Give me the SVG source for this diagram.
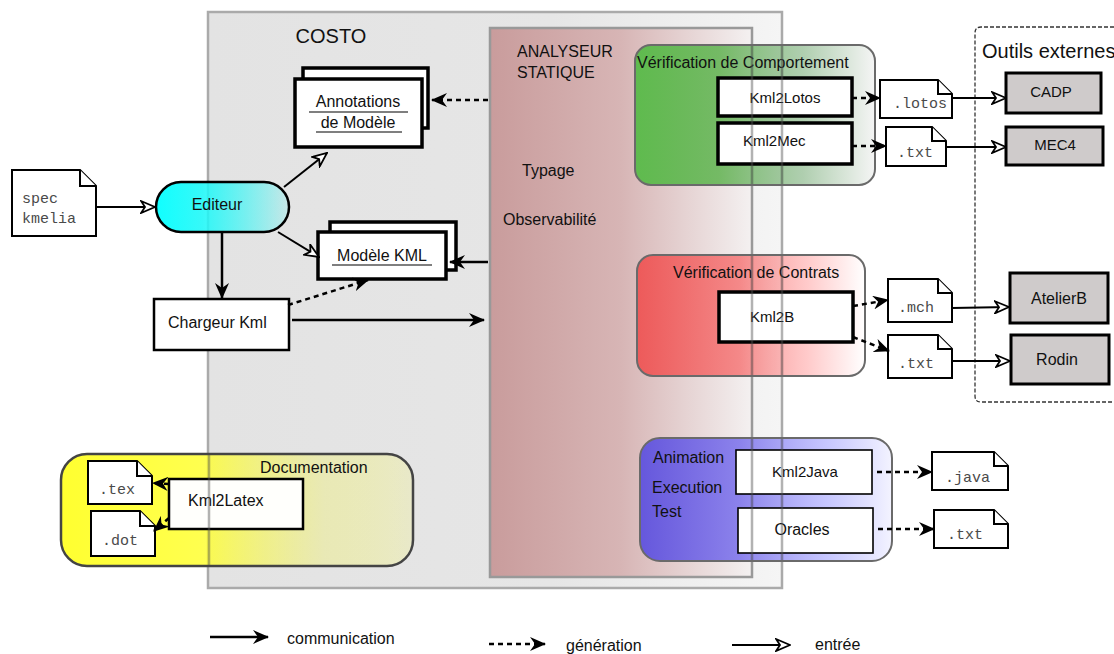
<svg xmlns="http://www.w3.org/2000/svg" width="1114" height="654" viewBox="0 0 1114 654">
<defs>
<style>
text{font-family:"Liberation Sans",Arial,sans-serif;font-size:16px;fill:#111}
.mono{font-family:"Liberation Mono","Courier New",monospace;font-size:15px;fill:#4a4a4a}
.box{fill:#fff;stroke:#000;stroke-width:2.5}
.thick{fill:#fff;stroke:#000;stroke-width:3.5}
.thin{fill:#fff;stroke:#000;stroke-width:1.6}
.doc{fill:#fff;stroke:#000;stroke-width:2}
.tool{fill:#cfcbcb;stroke:#000;stroke-width:3}
.grp{stroke:#6a6a6a;stroke-width:2}
.comm{fill:none;stroke:#000;stroke-width:2.5;marker-end:url(#mComm)}
.gen{fill:none;stroke:#000;stroke-width:2.5;stroke-dasharray:5 4;marker-end:url(#mComm)}
.inp{fill:none;stroke:#000;stroke-width:2;marker-end:url(#mIn)}
.ov{fill:none;stroke:#555;stroke-opacity:0.45;stroke-width:2.5}
.c{text-anchor:middle}
</style>
<marker id="mComm" viewBox="0 0 16 14" refX="15" refY="7" markerWidth="16" markerHeight="14" markerUnits="userSpaceOnUse" orient="auto">
<path d="M0,0 L16,7 L0,14 L5,7 Z" fill="#000"/>
</marker>
<marker id="mIn" viewBox="0 0 16 14" refX="15" refY="7" markerWidth="16" markerHeight="14" markerUnits="userSpaceOnUse" orient="auto">
<path d="M1,1 L15,7 L1,13 L5,7 Z" fill="#fff" stroke="#000" stroke-width="1.8"/>
</marker>
<linearGradient id="gCosto" x1="0" x2="1" y1="0" y2="0">
<stop offset="0" stop-color="#e3e3e3"/><stop offset="0.6" stop-color="#e6e6e6"/><stop offset="1" stop-color="#f5f5f5"/>
</linearGradient>
<linearGradient id="gAna" x1="0" x2="1" y1="0" y2="0">
<stop offset="0" stop-color="#c99c9c"/><stop offset="0.5" stop-color="#d7b5b5"/><stop offset="1" stop-color="#f4f1f1"/>
</linearGradient>
<linearGradient id="gEdit" x1="0" x2="1" y1="0" y2="0">
<stop offset="0" stop-color="#10ffff" stop-opacity="1"/><stop offset="0.35" stop-color="#20f8f8" stop-opacity="0.9"/><stop offset="1" stop-color="#00ffff" stop-opacity="0.12"/>
</linearGradient>
<linearGradient id="gGreen" x1="0" x2="1" y1="0" y2="0">
<stop offset="0" stop-color="#58bb48" stop-opacity="0.95"/><stop offset="0.35" stop-color="#5fb34f" stop-opacity="0.85"/><stop offset="0.7" stop-color="#7aae7a" stop-opacity="0.6"/><stop offset="1" stop-color="#eeeeee" stop-opacity="0.6"/>
</linearGradient>
<linearGradient id="gRed" x1="0" x2="1" y1="0" y2="0">
<stop offset="0" stop-color="#ee5555" stop-opacity="0.95"/><stop offset="0.45" stop-color="#f57070" stop-opacity="0.8"/><stop offset="0.75" stop-color="#ffa8a8" stop-opacity="0.6"/><stop offset="1" stop-color="#ffffff" stop-opacity="0.6"/>
</linearGradient>
<linearGradient id="gBlue" x1="0" x2="1" y1="0" y2="0">
<stop offset="0" stop-color="#5f52de" stop-opacity="0.95"/><stop offset="0.4" stop-color="#7a70ec" stop-opacity="0.85"/><stop offset="0.75" stop-color="#aaaaff" stop-opacity="0.65"/><stop offset="1" stop-color="#eeeeff" stop-opacity="0.7"/>
</linearGradient>
<linearGradient id="gYel" x1="0" x2="1" y1="0" y2="0">
<stop offset="0" stop-color="#ffff30" stop-opacity="1"/><stop offset="0.4" stop-color="#ffff30" stop-opacity="0.85"/><stop offset="0.75" stop-color="#f0f070" stop-opacity="0.4"/><stop offset="1" stop-color="#ffff30" stop-opacity="0.15"/>
</linearGradient>
</defs>

<g id="costo">
<rect x="208" y="12" width="574" height="576" fill="url(#gCosto)" stroke="#aaaaaa" stroke-width="2.5"/>
<text x="331" y="43" class="c" style="font-size:20px">COSTO</text>
</g>

<g id="analyseur">
<rect x="490" y="28" width="262" height="549" fill="url(#gAna)" stroke="#999999" stroke-width="2.5"/>
<text x="517" y="57">ANALYSEUR</text>
<text x="517" y="78">STATIQUE</text>
<text x="522" y="176">Typage</text>
<text x="503" y="225">Observabilité</text>
</g>

<g id="verif-comportement">
<rect x="635" y="45" width="240" height="140" rx="16" fill="url(#gGreen)" class="grp"/>
<text x="637" y="68">Vérification de Comportement</text>
</g>

<g id="verif-contrats">
<rect x="637" y="255" width="228" height="121" rx="16" fill="url(#gRed)" class="grp"/>
<text x="673" y="278">Vérification de Contrats</text>
</g>

<g id="animation">
<rect x="640" y="438" width="252" height="123" rx="20" fill="url(#gBlue)" class="grp"/>
<text x="653" y="463">Animation</text>
<text x="652" y="493">Execution</text>
<text x="652" y="517">Test</text>
</g>

<g id="documentation">
<rect x="61" y="454" width="352" height="112" rx="26" fill="url(#gYel)" stroke="#444" stroke-width="2.5"/>
<text x="260" y="473">Documentation</text>
</g>

<g id="outils-externes">
<path d="M1114,27 H981 Q975,27 975,33 V396 Q975,402 981,402 H1114" fill="none" stroke="#333" stroke-width="1.3" stroke-dasharray="4 2"/>
<text x="982" y="58" style="font-size:20px">Outils externes</text>
</g>

<g id="spec-kmelia">
<path d="M12,170 H80 L96,186 V236 H12 Z" class="doc"/>
<path d="M80,170 V186 H96" class="doc"/>
<text x="22" y="203" class="mono">spec</text>
<text x="22" y="223" class="mono">kmelia</text>
</g>

<g id="editeur">
<rect x="156" y="182" width="133" height="50" rx="25" fill="url(#gEdit)" stroke="#000" stroke-width="2.5"/>
<text x="217" y="210" class="c">Editeur</text>
</g>

<g id="annotations">
<rect x="303" y="68" width="125" height="60" class="thick"/>
<rect x="295" y="79" width="127" height="68" class="thick"/>
<text x="358" y="107" class="c">Annotations</text>
<line x1="309" y1="112" x2="408" y2="112" stroke="#000" stroke-width="1.2"/>
<text x="358" y="128" class="c">de Modèle</text>
<line x1="316" y1="132" x2="402" y2="132" stroke="#000" stroke-width="1.2"/>
</g>

<g id="modele-kml">
<rect x="330" y="222" width="126" height="48" class="thick"/>
<rect x="318" y="232" width="128" height="47" class="thick"/>
<text x="382" y="261" class="c">Modèle KML</text>
<line x1="332" y1="265" x2="432" y2="265" stroke="#000" stroke-width="1.2"/>
</g>

<g id="chargeur">
<rect x="154" y="299" width="135" height="51" class="box"/>
<text x="168" y="328">Chargeur Kml</text>
</g>

<g id="kml2lotos">
<rect x="718" y="78" width="134" height="38" class="thick"/>
<text x="785" y="103" class="c" style="font-size:15px">Kml2Lotos</text>
</g>
<g id="kml2mec">
<rect x="718" y="123" width="134" height="41" class="thick"/>
<text x="743" y="146" style="font-size:15px">Kml2Mec</text>
</g>

<g id="doc-lotos">
<path d="M880,80 H938 L952,94 V118 H880 Z" class="doc"/>
<path d="M938,80 V94 H952" class="doc"/>
<text x="893" y="108" class="mono">.lotos</text>
</g>
<g id="doc-txt1">
<path d="M886,127 H932 L946,141 V166 H886 Z" class="doc"/>
<path d="M932,127 V141 H946" class="doc"/>
<text x="897" y="157" class="mono">.txt</text>
</g>

<g id="cadp">
<rect x="1006" y="73" width="95" height="40" class="tool"/>
<text x="1051" y="97" class="c" style="font-size:15px">CADP</text>
</g>
<g id="mec4">
<rect x="1006" y="127" width="97" height="38" class="tool"/>
<text x="1055" y="150" class="c" style="font-size:15px">MEC4</text>
</g>

<g id="kml2b">
<rect x="719" y="292" width="134" height="50" class="thick"/>
<text x="750" y="322" style="font-size:15px">Kml2B</text>
</g>
<g id="doc-mch">
<path d="M888,279 H938 L952,293 V322 H888 Z" class="doc"/>
<path d="M938,279 V293 H952" class="doc"/>
<text x="898" y="312" class="mono">.mch</text>
</g>
<g id="doc-txt2">
<path d="M888,335 H938 L952,349 V378 H888 Z" class="doc"/>
<path d="M938,335 V349 H952" class="doc"/>
<text x="898" y="368" class="mono">.txt</text>
</g>

<g id="atelierb">
<rect x="1010" y="273" width="98" height="50" class="tool"/>
<text x="1059" y="304" class="c">AtelierB</text>
</g>
<g id="rodin">
<rect x="1011" y="335" width="98" height="49" class="tool"/>
<text x="1057" y="365" class="c">Rodin</text>
</g>

<g id="kml2java">
<rect x="736" y="450" width="136" height="44" class="thin"/>
<text x="805" y="477" class="c" style="font-size:15px">Kml2Java</text>
</g>
<g id="oracles">
<rect x="738" y="508" width="135" height="45" class="thin"/>
<text x="802" y="535" class="c">Oracles</text>
</g>
<g id="doc-java">
<path d="M932,452 H994 L1008,466 V490 H932 Z" class="doc"/>
<path d="M994,452 V466 H1008" class="doc"/>
<text x="945" y="482" class="mono">.java</text>
</g>
<g id="doc-txt3">
<path d="M934,510 H994 L1008,524 V548 H934 Z" class="doc"/>
<path d="M994,510 V524 H1008" class="doc"/>
<text x="947" y="539" class="mono">.txt</text>
</g>

<g id="doc-tex">
<path d="M88,461 H137 L152,476 V504 H88 Z" class="doc"/>
<path d="M137,461 V476 H152" class="doc"/>
<text x="99" y="494" class="mono">.tex</text>
</g>
<g id="doc-dot">
<path d="M91,511 H140 L155,526 V556 H91 Z" class="doc"/>
<path d="M140,511 V526 H155" class="doc"/>
<text x="102" y="545" class="mono">.dot</text>
</g>
<g id="kml2latex">
<rect x="169" y="479" width="134" height="50" fill="#fffffc" stroke="#000" stroke-width="2.5"/>
<text x="188" y="506">Kml2Latex</text>
</g>

<g id="costo-borders-overlay">
<path d="M752,46 V184 M782,46 V184 M752,256 V375 M782,256 V375 M752,439 V560 M782,439 V560 M209,455 V565" class="ov"/>
</g>

<g id="connectors">
<path d="M96,207 H155" class="inp"/>
<path d="M284,187 L327,153" class="inp"/>
<path d="M278,232 L319,257" class="inp"/>
<path d="M222,233 V298" class="comm"/>
<path d="M288,305 L368,280" class="gen"/>
<path d="M292,320 H484" class="comm"/>
<path d="M488,100 H432" class="gen"/>
<path d="M488,262 H450" class="comm"/>
<path d="M852,98 H880" class="gen"/>
<path d="M852,146 H886" class="gen"/>
<path d="M952,98 H1006" class="inp"/>
<path d="M946,147 H1006" class="inp"/>
<path d="M853,306 L888,300" class="gen"/>
<path d="M853,337 L889,351" class="gen"/>
<path d="M952,308 L1009,307" class="inp"/>
<path d="M952,361 H1010" class="inp"/>
<path d="M877,472 H932" class="gen"/>
<path d="M878,529 H934" class="gen"/>
<path d="M169,484 L153,483" class="gen"/>
<path d="M169,518 L154,531" class="gen"/>
</g>

<g id="legend">
<path d="M210,637 H268" class="comm"/>
<text x="287" y="644">communication</text>
<path d="M489,644 H545" class="gen"/>
<text x="566" y="651">génération</text>
<path d="M732,645 H790" class="inp"/>
<text x="815" y="650">entrée</text>
</g>
</svg>
